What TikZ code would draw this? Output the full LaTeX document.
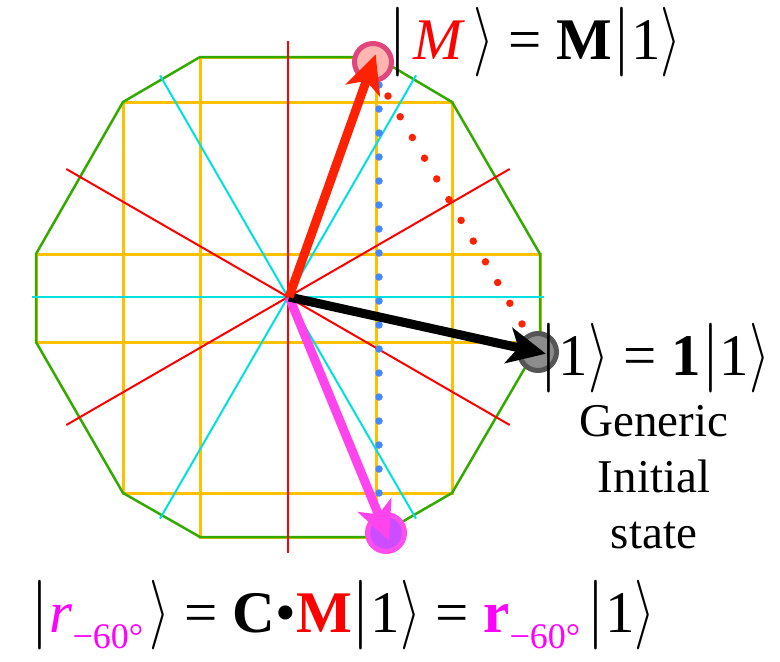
\RequirePackage{fix-cm}
\documentclass[tikz,border=0pt]{standalone}
\usepackage{graphicx}
\usepackage{fontspec}
\setmainfont{Liberation Serif}
\usetikzlibrary{arrows.meta}
\definecolor{gridy}{HTML}{FFC000}
\definecolor{dodg}{HTML}{33AA00}
\definecolor{rayr}{HTML}{FF0000}
\definecolor{rayc}{HTML}{00E0E0}
\definecolor{arrr}{HTML}{FF2200}
\definecolor{arrm}{HTML}{FF44EE}
\definecolor{dotb}{HTML}{4488FF}
\definecolor{mag}{HTML}{FF00FF}
\definecolor{mfill}{HTML}{FFB6B0}
\definecolor{mdraw}{HTML}{E0457B}
\definecolor{rfill}{HTML}{CC4DFF}
\definecolor{rdraw}{HTML}{FF4DEE}
\definecolor{ofill}{HTML}{8C8C8C}
\definecolor{odraw}{HTML}{555555}
\newcommand{\kbar}{\scalebox{1.15}[1.18]{$|$}}
\newcommand{\kang}{\scalebox{0.9}[1.18]{$\rangle$}}
\newcommand{\subsc}[1]{\raisebox{-16pt}{\fontsize{36}{40}\selectfont #1}\kern6pt}
\begin{document}
\begin{tikzpicture}[x=1pt,y=-1pt,
  gridline/.style={gridy, line width=3pt},
  rayline/.style={line width=2pt},
  vec/.style={line width=9pt, -{Stealth[length=38pt,width=36pt,inset=10pt]}, shorten >=-8pt},
  dotline/.style={line width=7.5pt, line cap=round},
  state/.style={circle, minimum size=37pt, inner sep=0pt, line width=5pt},
  lab/.style={font=\fontsize{59}{70}\selectfont, inner sep=0pt},
  gen/.style={font=\fontsize{47}{56}\selectfont, inner sep=0pt, align=center}]
\useasboundingbox (0,0) rectangle (780,662);
% yellow grid
\draw[gridline] (200,57) rectangle (376,537);
\draw[gridline] (123,102) rectangle (452,493);
\draw[gridline] (36,254) rectangle (540,342);
% green dodecagon
\draw[dodg, line width=2.5pt, line join=miter]
  (200,57) -- (376,57) -- (452,102) -- (540,254) -- (540,342) -- (452,493)
  -- (376,537) -- (200,537) -- (123,493) -- (36,342) -- (36,254) -- (123,102) -- cycle;
% rays
\coordinate (C) at (288,297);
\foreach \a in {0,60,120}
  \draw[rayline, rayc] ([shift={(C)}]\a:256) -- ([shift={(C)}]\a+180:256);
\foreach \a in {30,90,150}
  \draw[rayline, rayr] ([shift={(C)}]\a:256) -- ([shift={(C)}]\a+180:256);
% dotted paths
\coordinate (bt) at (379,61);
\coordinate (bb) at (379,517);
\draw[dotline, dotb, dash pattern=on 0pt off 24pt] (bt) -- (bb);
\coordinate (rt) at (375.8,75.3);
\coordinate (rb) at (534.2,344.7);
\draw[dotline, arrr, dash pattern=on 0pt off 24.04pt] (rt) -- (rb);
% state circles
\node[state, draw=mdraw, fill=mfill] (M) at (373,62) {};
\node[state, draw=odraw, fill=ofill] (one) at (538,352) {};
\node[state, draw=rdraw, fill=rfill] (r) at (386,533) {};
% vectors
\coordinate (O) at (289,297);
\draw[vec, arrm] (O) -- (r.center);
\draw[vec, black] (O) -- (one.center);
\draw[vec, arrr] (O) -- (M.center);
% labels
\node[lab, anchor=base] (tl) at (535,59)
  {\kbar\kern6pt\textcolor{rayr}{\textit{M}}\kern8pt\kang{} = \textbf{M}\kbar 1\kang};
\node[lab, anchor=base] (rl) at (655,375)
  {\kbar 1\kang{} = \textbf{1}\kbar 1\kang};
\node[gen, anchor=base] (gl) at (654,548) {Generic\\Initial\\state};
\node[lab, anchor=base] (bl) at (343,632)
  {\kbar\textcolor{mag}{\textit{r}\subsc{−60°}}\kang{} = \textbf{C}•\textcolor{rayr}{\textbf{M}}\kbar 1\kang{} = \textcolor{mag}{\textbf{r}\subsc{−60°}}\kbar 1\kang};
\end{tikzpicture}
\end{document}
